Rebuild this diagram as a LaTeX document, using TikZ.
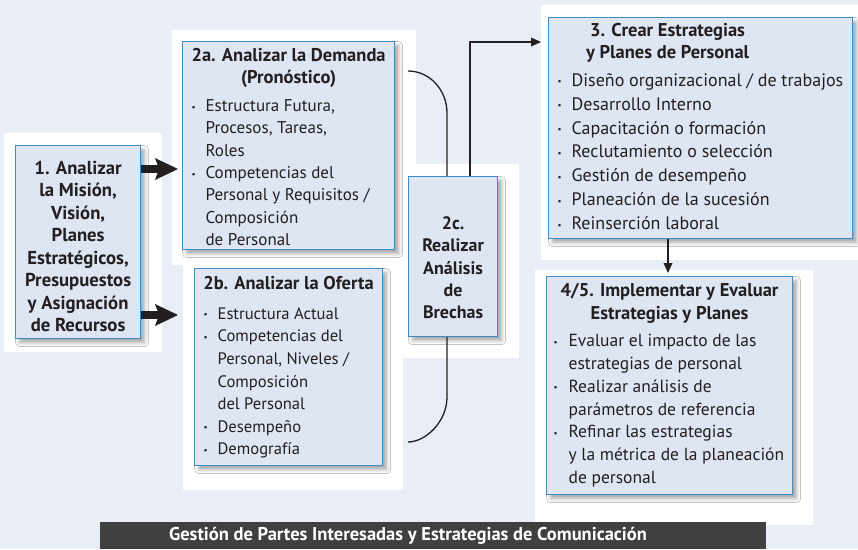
\documentclass[tikz,border=0pt]{standalone}
\usepackage{fontspec}
\setmainfont{PT Sans}
\usetikzlibrary{arrows.meta,shadows.blur}
\definecolor{bg}{HTML}{E9EEF6}
\definecolor{boxfill}{HTML}{DDE6F2}
\definecolor{boxline}{HTML}{3A8DCB}
\definecolor{ink}{HTML}{231F20}
\definecolor{barfill}{HTML}{404040}
\newlength{\bulind}
\setlength{\bulind}{23pt}
\newlength{\bulpos}
\setlength{\bulpos}{9pt}
\newcommand{\bul}[1]{\par\hangindent=\bulind\hangafter=1\noindent\makebox[\bulind][l]{\hspace*{\bulpos}\raisebox{1.5pt}{\fontsize{9}{9}\selectfont •}}#1}
\newcommand{\ttlfont}{\fontsize{18.5}{22.3}\selectfont\bfseries}
\tikzset{
  box/.style={draw=boxline, line width=1.2pt, fill=boxfill, inner sep=0pt, anchor=north west, text=ink,
    blur shadow={shadow xshift=4pt, shadow yshift=-4pt, shadow blur radius=4pt, shadow opacity=35}},
  panel/.style={fill=white, draw=none},
  bigarrow/.style={draw=ink, line width=8pt, -{Stealth[length=23pt,width=22pt,inset=4pt,line width=0pt]}},
  conn/.style={draw=ink, line width=1.3pt},
  connarrow/.style={draw=ink, line width=1.3pt, -{Triangle[length=10pt,width=9pt,line width=0pt]}},
  bar/.style={fill=barfill, text=white, inner sep=0pt, minimum width=666pt, minimum height=27pt, font=\fontsize{18.5}{20}\selectfont\bfseries}
}
\begin{document}
\begin{tikzpicture}[x=1pt,y=-1pt]
\useasboundingbox (0,0) rectangle (858,549);
\fill[bg] (0,0) rectangle (858,549);
% white panels
\fill[panel] (4,133) rectangle (162,352);
\fill[panel] (172,30) rectangle (416,265);
\fill[panel] (183,262) rectangle (403,490);
\fill[panel] (396,164) rectangle (519,358);
\fill[panel] (541,5) rectangle (858,260);
\fill[panel] (535,270) rectangle (813,525);
% boxes
\node[box] (b1) at (15,145) {\parbox[c][193pt][t]{125pt}{\fontsize{18.7}{22.5}\selectfont\vspace*{15.5pt}\bfseries\centering 1. Analizar\\la Misión,\\Visión,\\Planes\\Estratégicos,\\Presupuestos\\y Asignación\\de Recursos\par}};
\node[box] (b2a) at (182,41) {\parbox[c][208pt][t]{212pt}{\fontsize{17}{22.3}\selectfont\vspace*{6.5pt}{\centering\ttlfont 2a. Analizar la Demanda\\(Pronóstico)\par}\vspace{5.7pt}\raggedright
\bul{Estructura Futura,\newline Procesos, Tareas,\newline Roles}
\bul{Competencias del\newline Personal y Requisitos /\newline Composición\newline de Personal}\par}};
\node[box] (b2b) at (194,268) {\parbox[c][197pt][t]{188pt}{\fontsize{16.6}{22.6}\selectfont\vspace*{7.5pt}{\centering\ttlfont 2b. Analizar la Oferta\par}\vspace{7.4pt}\raggedright
\bul{Estructura Actual}
\bul{Competencias del\newline Personal, Niveles /\newline Composición\newline del Personal}
\bul{Desempeño}
\bul{Demografía}\par}};
\node[box] (b2c) at (408,176) {\parbox[c][160pt][t]{89pt}{\fontsize{18}{22.3}\selectfont\vspace*{40pt}\bfseries\centering 2c.\\Realizar\\Análisis\\de\\Brechas\par}};
\node[box] (b3) at (548,17) {\parbox[c][221pt][t]{304pt}{\fontsize{18}{23.9}\selectfont\vspace*{5.5pt}{\centering\rightskip=66pt plus 1fil\ttlfont\baselineskip=22pt 3. Crear Estrategias\\y Planes de Personal\par}\vspace{4pt}\raggedright
\bul{Diseño organizacional / de trabajos}
\bul{Desarrollo Interno}
\bul{Capacitación o formación}
\bul{Reclutamiento o selección}
\bul{Gestión de desempeño}
\bul{Planeación de la sucesión}
\bul{Reinserción laboral}\par}};
\node[box] (b45) at (546,276) {\parbox[c][218pt][t]{246pt}{\fontsize{17.5}{22.7}\selectfont\setlength{\bulpos}{7pt}\setlength{\bulind}{22pt}\vspace*{6.5pt}{\centering\ttlfont\baselineskip=23pt 4/5. Implementar y Evaluar\\Estrategias y Planes\par}\vspace{5pt}\raggedright
\bul{Evaluar el impacto de las\newline estrategias de personal}
\bul{Realizar análisis de\newline parámetros de referencia}
\bul{Refinar las estrategias\newline y la métrica de la planeación\newline de personal}\par}};
\node[bar] (bar) at (433,535.5) {\hspace*{-50pt}Gestión de Partes Interesadas y Estrategias de Comunicación};
% connectors
\coordinate (a1) at (178,169);
\coordinate (a2) at (178,315);
\draw[bigarrow, shorten >=4pt] (b1.east |- a1) -- (b2a.west |- a1);
\draw[bigarrow, shorten >=16pt] (b1.east |- a2) -- (b2b.west |- a2);
\coordinate (c1) at (408,71);
\coordinate (v1) at (447,113);
\draw[conn] (c1) .. controls (429.5,71) and (447,89.8) .. (v1) -- (v1 |- b2c.north);
\coordinate (v2) at (447,397);
\coordinate (c2) at (408,442);
\draw[conn] (v2 |- b2c.south) -- (v2) .. controls (447,421.8) and (425.5,442) .. (c2);
\coordinate (k1) at (470,42);
\draw[connarrow, shorten >=7pt] (k1 |- b2c.north) -- (k1) -- (b3.west |- k1);
\coordinate (k2) at (668,250);
\draw[connarrow, shorten >=3pt] (k2 |- b3.south) -- (k2 |- b45.north);
\end{tikzpicture}
\end{document}
